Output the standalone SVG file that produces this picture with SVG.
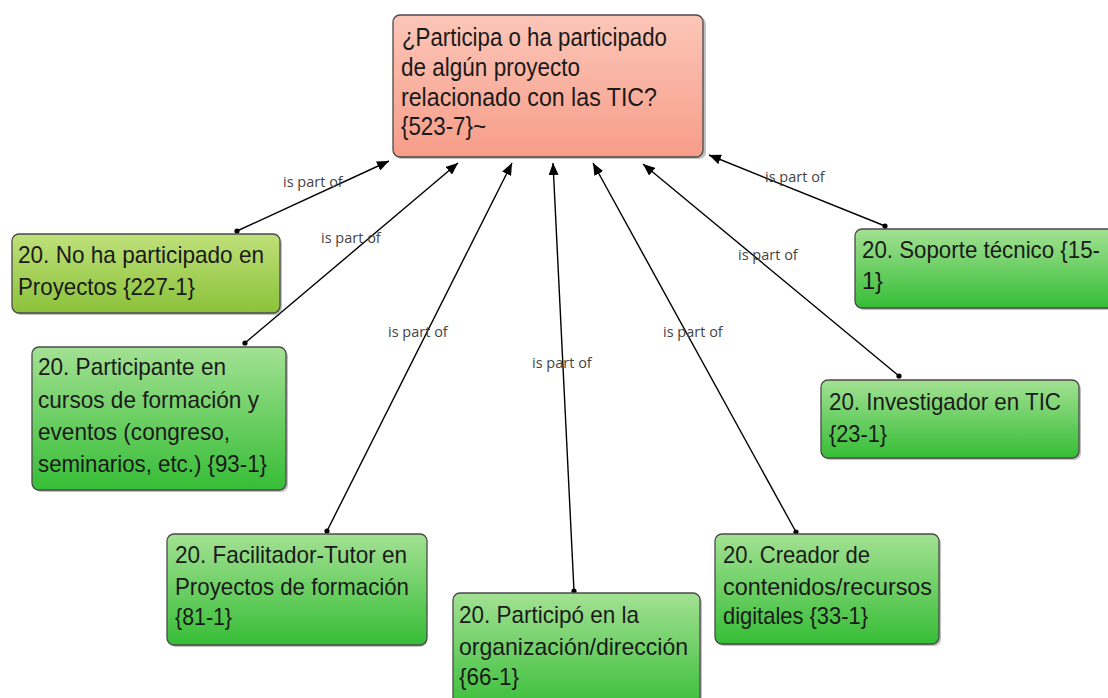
<svg xmlns="http://www.w3.org/2000/svg" width="1108" height="698" viewBox="0 0 1108 698">
  <defs>
    <linearGradient id="gRed" x1="0" y1="0" x2="0" y2="1">
      <stop offset="0" stop-color="#fcc6b8"/>
      <stop offset="1" stop-color="#f79d89"/>
    </linearGradient>
    <linearGradient id="gLime" x1="0" y1="0" x2="0" y2="1">
      <stop offset="0" stop-color="#bfe07a"/>
      <stop offset="1" stop-color="#8bc23a"/>
    </linearGradient>
    <linearGradient id="gGreen" x1="0" y1="0" x2="0" y2="1">
      <stop offset="0" stop-color="#a3e193"/>
      <stop offset="1" stop-color="#36bd36"/>
    </linearGradient>
    <marker id="arrow" viewBox="0 0 12 10" refX="12" refY="5" markerWidth="12" markerHeight="10" markerUnits="userSpaceOnUse" orient="auto">
      <path d="M0,0 L12,5 L0,10 Z" fill="#000"/>
    </marker>
    <marker id="dot" viewBox="0 0 6 6" refX="3" refY="3" markerWidth="6" markerHeight="6" markerUnits="userSpaceOnUse">
      <circle cx="3" cy="3" r="2.6" fill="#000"/>
    </marker>
  </defs>
  <style>
    .box { stroke: #4a4a4a; stroke-width: 1.3; }
    .shadow { fill: #8a8a8a; opacity: 0.55; }
    .txt { font-family: "Liberation Sans", Arial, sans-serif; font-size: 24px; fill: #1a1a1a; }
    .big { font-size: 25px; }
    .edge { stroke: #000; stroke-width: 1.4; fill: none; marker-start: url(#dot); marker-end: url(#arrow); }
    .lbl { font-family: "Open Sans", "DejaVu Sans", sans-serif; font-size: 14.5px; fill: #444; }
  </style>
  <rect width="1108" height="698" fill="#fff"/>

  <!-- connectors: dot at child, arrowhead at the question -->
  <g id="connectors">
    <line class="edge" x1="237" y1="231" x2="389" y2="161"/>
    <line class="edge" x1="245" y1="343" x2="458" y2="163"/>
    <line class="edge" x1="327" y1="531" x2="512" y2="163"/>
    <line class="edge" x1="574" y1="591" x2="553" y2="163"/>
    <line class="edge" x1="796" y1="532" x2="593" y2="163"/>
    <line class="edge" x1="899" y1="376" x2="643" y2="164"/>
    <line class="edge" x1="885" y1="226" x2="709" y2="155"/>
    <text class="lbl" x="283" y="187">is part of</text>
    <text class="lbl" x="321" y="243">is part of</text>
    <text class="lbl" x="388" y="337">is part of</text>
    <text class="lbl" x="532" y="368">is part of</text>
    <text class="lbl" x="663" y="337">is part of</text>
    <text class="lbl" x="738" y="260">is part of</text>
    <text class="lbl" x="765" y="182">is part of</text>
  </g>

  <g id="n-question">
    <rect class="shadow" x="395" y="17" width="311" height="142" rx="7"/>
    <rect class="box" x="393" y="15" width="310" height="142" rx="7" fill="url(#gRed)"/>
    <text class="txt big" x="402" y="46" textLength="265" lengthAdjust="spacingAndGlyphs">¿Participa o ha participado</text>
    <text class="txt big" x="401" y="76" textLength="179" lengthAdjust="spacingAndGlyphs">de algún proyecto</text>
    <text class="txt big" x="401" y="106" textLength="256" lengthAdjust="spacingAndGlyphs">relacionado con las TIC?</text>
    <text class="txt big" x="401" y="135" textLength="85" lengthAdjust="spacingAndGlyphs">{523-7}~</text>
  </g>

  <g id="n-no-participado">
    <rect class="shadow" x="14" y="236" width="268" height="79" rx="7"/>
    <rect class="box" x="12" y="234" width="268" height="79" rx="7" fill="url(#gLime)"/>
    <text class="txt" x="18" y="263" textLength="246" lengthAdjust="spacingAndGlyphs">20. No ha participado en</text>
    <text class="txt" x="18" y="295" textLength="177" lengthAdjust="spacingAndGlyphs">Proyectos {227-1}</text>
  </g>

  <g id="n-participante">
    <rect class="shadow" x="34" y="349" width="254" height="143" rx="7"/>
    <rect class="box" x="32" y="347" width="254" height="143" rx="7" fill="url(#gGreen)"/>
    <text class="txt" x="38" y="375" textLength="188" lengthAdjust="spacingAndGlyphs">20. Participante en</text>
    <text class="txt" x="38" y="408" textLength="221" lengthAdjust="spacingAndGlyphs">cursos de formación y</text>
    <text class="txt" x="38" y="440" textLength="192" lengthAdjust="spacingAndGlyphs">eventos (congreso,</text>
    <text class="txt" x="38" y="472" textLength="229" lengthAdjust="spacingAndGlyphs">seminarios, etc.) {93-1}</text>
  </g>

  <g id="n-facilitador">
    <rect class="shadow" x="169" y="536" width="258" height="111" rx="7"/>
    <rect class="box" x="167" y="534" width="260" height="111" rx="7" fill="url(#gGreen)"/>
    <text class="txt" x="175" y="563" textLength="232" lengthAdjust="spacingAndGlyphs">20. Facilitador-Tutor en</text>
    <text class="txt" x="175" y="595" textLength="234" lengthAdjust="spacingAndGlyphs">Proyectos de formación</text>
    <text class="txt" x="175" y="625" textLength="57" lengthAdjust="spacingAndGlyphs">{81-1}</text>
  </g>

  <g id="n-participo">
    <rect class="shadow" x="455" y="595" width="247" height="120" rx="7"/>
    <rect class="box" x="453" y="593" width="247" height="120" rx="7" fill="url(#gGreen)"/>
    <text class="txt" x="459" y="623" textLength="180" lengthAdjust="spacingAndGlyphs">20. Participó en la</text>
    <text class="txt" x="459" y="655" textLength="229" lengthAdjust="spacingAndGlyphs">organización/dirección</text>
    <text class="txt" x="459" y="685" textLength="60" lengthAdjust="spacingAndGlyphs">{66-1}</text>
  </g>

  <g id="n-creador">
    <rect class="shadow" x="717" y="536" width="224" height="110" rx="7"/>
    <rect class="box" x="715" y="534" width="224" height="110" rx="7" fill="url(#gGreen)"/>
    <text class="txt" x="723" y="563" textLength="147" lengthAdjust="spacingAndGlyphs">20. Creador de</text>
    <text class="txt" x="723" y="595" textLength="209" lengthAdjust="spacingAndGlyphs">contenidos/recursos</text>
    <text class="txt" x="723" y="624" textLength="145" lengthAdjust="spacingAndGlyphs">digitales {33-1}</text>
  </g>

  <g id="n-investigador">
    <rect class="shadow" x="823" y="382" width="258" height="78" rx="7"/>
    <rect class="box" x="821" y="380" width="258" height="78" rx="7" fill="url(#gGreen)"/>
    <text class="txt" x="829" y="410" textLength="232" lengthAdjust="spacingAndGlyphs">20. Investigador en TIC</text>
    <text class="txt" x="829" y="442" textLength="58" lengthAdjust="spacingAndGlyphs">{23-1}</text>
  </g>

  <g id="n-soporte">
    <rect class="shadow" x="857" y="231" width="270" height="79" rx="7"/>
    <rect class="box" x="855" y="229" width="270" height="79" rx="7" fill="url(#gGreen)"/>
    <text class="txt" x="862" y="258" textLength="238" lengthAdjust="spacingAndGlyphs">20. Soporte técnico {15-</text>
    <text class="txt" x="862" y="289" textLength="21" lengthAdjust="spacingAndGlyphs">1}</text>
  </g>
</svg>
